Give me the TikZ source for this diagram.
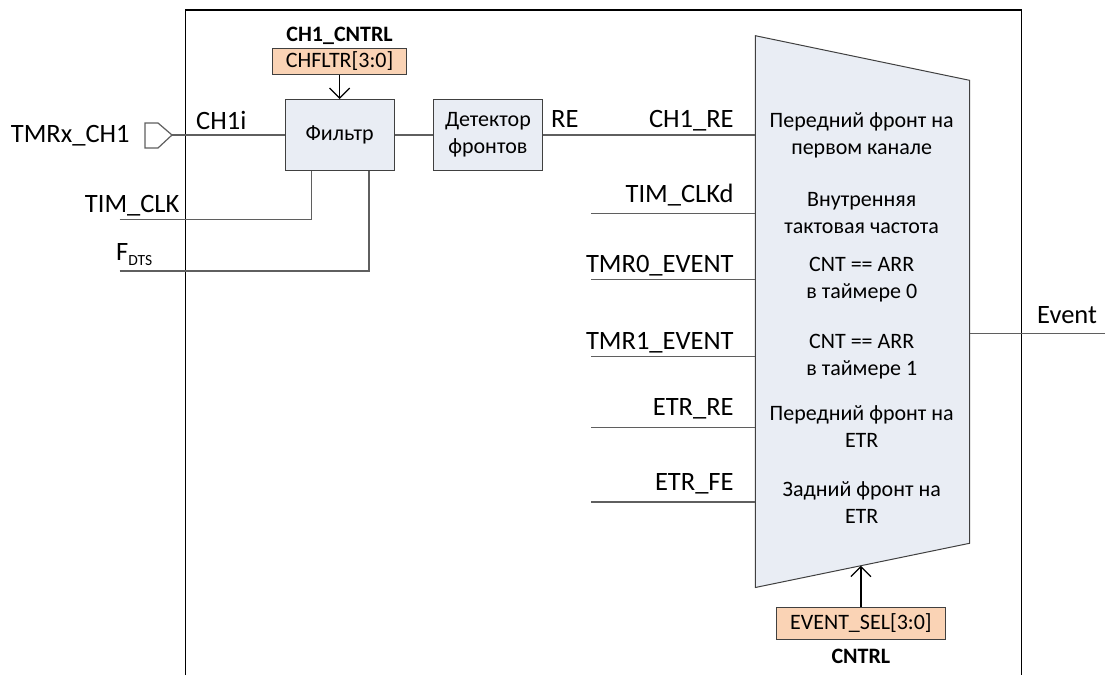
\documentclass[tikz,border=0pt]{standalone}
\usepackage{fontspec}
\setmainfont{Carlito}
\usetikzlibrary{arrows.meta}
\definecolor{wirec}{RGB}{95,95,95}
\definecolor{edgec}{RGB}{64,64,64}
\definecolor{blockfill}{RGB}{233,237,244}
\definecolor{regfill}{RGB}{250,211,181}
\begin{document}
\begin{tikzpicture}[x=1pt,y=-1pt,
  wire/.style={draw=wirec,line width=1.2pt},
  block/.style={draw=edgec,fill=blockfill,line width=1pt,minimum width=109pt,
    minimum height=71pt,inner sep=0pt,align=center,
    font=\fontsize{22}{27}\selectfont},
  reg/.style={draw=edgec,fill=regfill,line width=1pt,inner sep=0pt,
    font=\fontsize{22}{26}\selectfont},
  regname/.style={inner sep=0pt,font=\fontsize{22}{26}\selectfont\bfseries},
  lbl/.style={inner sep=0pt,font=\fontsize{26.5}{30}\selectfont},
  mtext/.style={inner sep=0pt,align=center,font=\fontsize{22}{27}\selectfont},
  ctl/.style={draw=black,line width=1.3pt,-{Straight Barb[length=10pt,width=20pt]}},
]
\useasboundingbox (0,0) rectangle (1105,675);

% module boundary (open at the bottom)
\draw[black,line width=1.5pt] (185.4,675) -- (185.4,10) -- (1021.6,10) -- (1021.6,675);

% input filter and edge detector
\node[block] (filt) at (339.6,135) {Фильтр};
\node[block] (det) at (487.9,135) {Детектор\\фронтов};
\node[reg,minimum width=134.5pt,minimum height=25.7pt] (chreg) at (339.6,61.2) {CHFLTR[3:0]};
\node[regname] (chname) at (339.6,35.8) {CH1\_CNTRL};
\draw[ctl] (chreg.south) -- (filt.north);

% input pin
\coordinate (port) at (172,135);
\draw[wire,fill=white] (145,123) -- (158,123) -- (port) -- (158,148) -- (145,148) -- cycle;
\node[lbl,anchor=base west] (pinlbl) at (10.7,142.7) {TMRx\_CH1};
\draw[wire] (port) -- (filt.west);
\node[lbl,anchor=base west] (ch1i) at (196,129) {CH1i};

% clock inputs of the filter
\coordinate (clkin) at (119.6,219.3);
\coordinate (dtsin) at (119.6,271);
\draw[wire] (clkin) -| ([xshift=-27.8pt]filt.south);
\draw[wire] (dtsin) -| ([xshift=29.4pt]filt.south);
\node[lbl,anchor=base east] (clklbl) at (179.6,212) {TIM\_CLK};
\node[lbl,anchor=base west] (dtslbl) at (116,260)
  {F\raisebox{-5pt}{\fontsize{15.5}{16}\selectfont DTS}};

\draw[wire] (filt.east) -- (det.west);

% event multiplexer
\coordinate (mtl) at (755.3,35.7);
\coordinate (mtr) at (969.5,80.3);
\coordinate (mbr) at (969.5,543.3);
\coordinate (mbl) at (755.3,587.5);
\draw[draw=edgec,fill=blockfill,line width=1pt] (mtl) -- (mtr) -- (mbr) -- (mbl) -- cycle;

\coordinate (in1) at (755.3,135);
\coordinate (in2) at (755.3,213.3);
\coordinate (in3) at (755.3,279.7);
\coordinate (in4) at (755.3,356.7);
\coordinate (in5) at (755.3,427.3);
\coordinate (in6) at (755.3,502);
\coordinate (s2) at (591.3,213.3);
\coordinate (s3) at (591.3,279.7);
\coordinate (s4) at (591.3,356.7);
\coordinate (s5) at (591.3,427.3);
\coordinate (s6) at (591.3,502);

\draw[wire] (det.east) -- (in1);
\draw[wire] (s2) -- (in2);
\draw[wire] (s3) -- (in3);
\draw[wire] (s4) -- (in4);
\draw[wire] (s5) -- (in5);
\draw[wire] (s6) -- (in6);

\node[lbl,anchor=base west] (relbl) at (551,127.3) {RE};
\node[lbl,anchor=base east] (l1) at (733.8,127.3) {CH1\_RE};
\node[lbl,anchor=base east] (l2) at (733.8,202) {TIM\_CLKd};
\node[lbl,anchor=base east] (l3) at (733.8,272) {TMR0\_EVENT};
\node[lbl,anchor=base east] (l4) at (733.8,349) {TMR1\_EVENT};
\node[lbl,anchor=base east] (l5) at (733.8,415.7) {ETR\_RE};
\node[lbl,anchor=base east] (l6) at (733.8,490.7) {ETR\_FE};

\node[mtext] (t1) at (861.7,135) {Передний фронт на\\первом канале};
\node[mtext] (t2) at (861.7,213.5) {Внутренняя\\тактовая частота};
\node[mtext] (t3) at (861.7,279.5) {CNT == ARR\\в таймере 0};
\node[mtext] (t4) at (861.7,356.5) {CNT == ARR\\в таймере 1};
\node[mtext] (t5) at (861.7,427) {Передний фронт на\\ETR};
\node[mtext] (t6) at (861.7,502.5) {Задний фронт на\\ETR};

% output
\coordinate (out) at (969.5,333.3);
\coordinate (outend) at (1105,333.3);
\draw[wire] (out) -- (outend);
\node[lbl,anchor=base west] (evlbl) at (1037,323.3) {Event};

% selector register
\node[reg,minimum width=169.3pt,minimum height=32pt] (esel) at (860.9,623.3) {EVENT\_SEL[3:0]};
\node[regname] (cntrl) at (860.9,656) {CNTRL};
\coordinate (mbot) at (860.9,565.7);
\draw[ctl] (esel.north) -- (mbot);
\end{tikzpicture}
\end{document}
